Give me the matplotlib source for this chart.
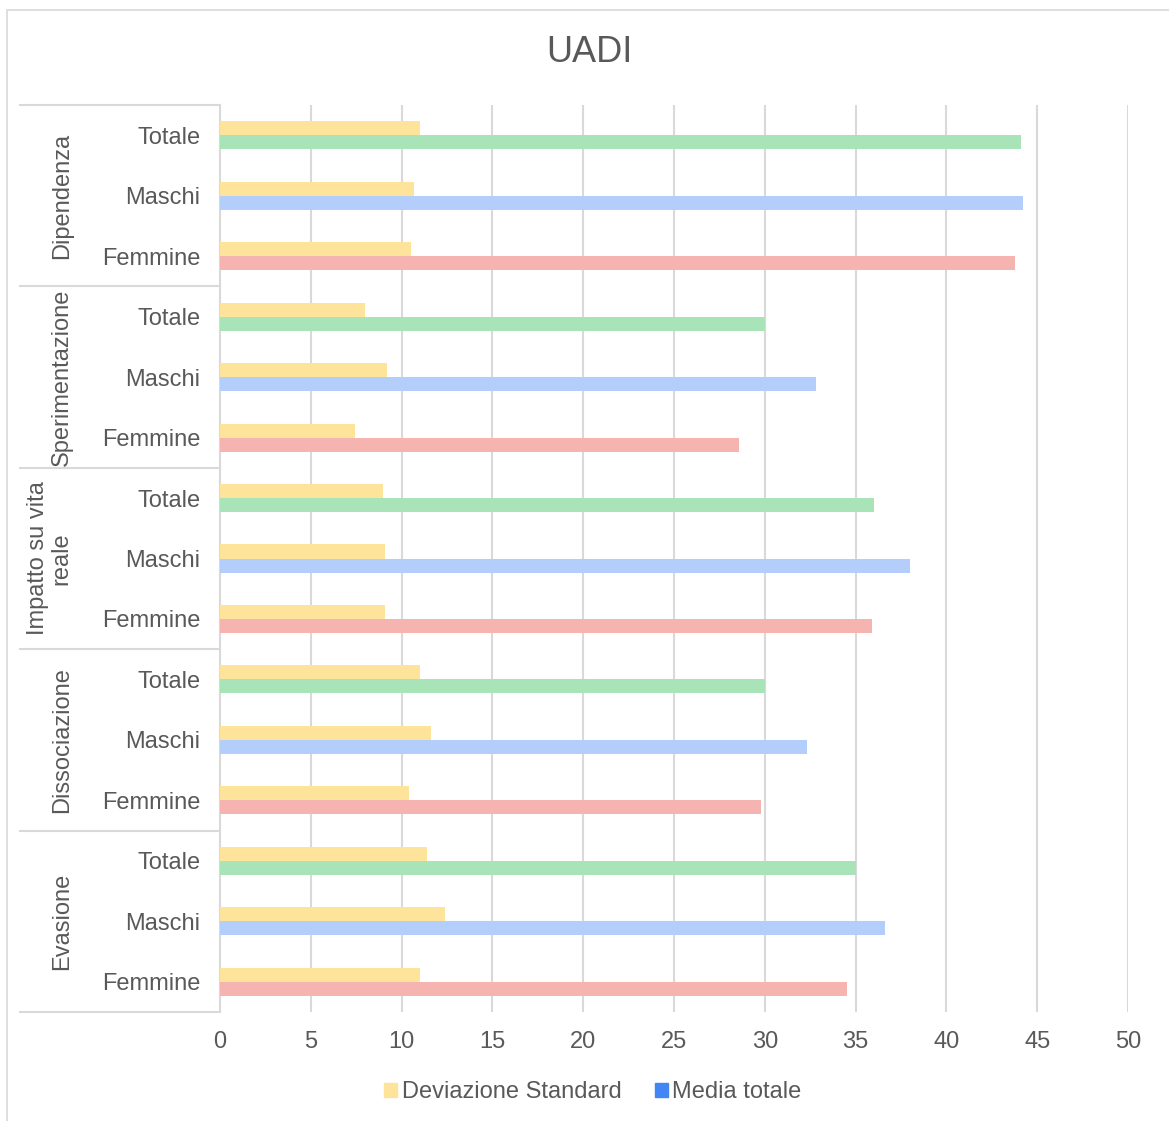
import matplotlib.pyplot as plt
from matplotlib.patches import Patch, Rectangle
from matplotlib.transforms import blended_transform_factory

plt.rcParams['font.family'] = ['Liberation Sans', 'DejaVu Sans']

groups = ['Dipendenza', 'Sperimentazione', 'Impatto su vita\nreale', 'Dissociazione', 'Evasione']
subgroups = ['Totale', 'Maschi', 'Femmine']

# one value per row, top to bottom (group by group, Totale/Maschi/Femmine)
dev_std = [11.0, 10.7, 10.5,
           8.0, 9.2, 7.45,
           8.95, 9.1, 9.1,
           11.0, 11.6, 10.4,
           11.4, 12.4, 11.0]
media = [44.1, 44.2, 43.75,
         30.0, 32.8, 28.6,
         36.0, 38.0, 35.9,
         30.0, 32.3, 29.8,
         35.0, 36.6, 34.5]

c_text = '#595959'
c_grid = '#d9d9d9'
c_sd = '#fde49a'
c_sub = {'Totale': '#a8e4b8', 'Maschi': '#b3cefa', 'Femmine': '#f6b4b0'}

fig = plt.figure(figsize=(11.69, 11.21), dpi=100)
W, H = 1169, 1121
ax = fig.add_axes([220 / W, 1 - 1012 / H, 908 / W, 907 / H])

# outer chart frame
fig.patches.append(Rectangle((7 / W, -0.1), 1.2, 1 - 10 / H + 0.1, transform=fig.transFigure,
                             fill=False, edgecolor=c_grid, linewidth=1.2))

n = len(media)
rows = list(range(n))
labels = [subgroups[i % 3] for i in rows]
h = 0.232
ax.barh([r - h / 2 for r in rows], dev_std, height=h, color=c_sd, zorder=3)
ax.barh([r + h / 2 for r in rows], media, height=h,
        color=[c_sub[l] for l in labels], zorder=3)

ax.set_xlim(0, 50)
ax.set_ylim(n - 0.5, -0.5)
ax.set_xticks(range(0, 51, 5))
ax.set_yticks(rows)
ax.set_yticklabels(labels)
ax.tick_params(axis='y', length=0, pad=14, labelsize=17, labelcolor=c_text)
ax.tick_params(axis='x', length=0, pad=14, labelsize=17, labelcolor=c_text)
ax.xaxis.grid(True, color=c_grid, linewidth=1.5, zorder=0)
for s in ['top', 'right', 'bottom']:
    ax.spines[s].set_visible(False)
ax.spines['left'].set_color(c_grid)
ax.spines['left'].set_linewidth(1.5)

# group separators and group names on the category axis
tr = blended_transform_factory(ax.transAxes, ax.transData)
x0 = (20 - 220) / 908
for k in range(len(groups) + 1):
    y = k * 3 - 0.5
    ax.plot([x0, 0], [y, y], color=c_grid, linewidth=1.5, transform=tr, clip_on=False)
for k, g in enumerate(groups):
    xc = 50 if '\n' in g else 62
    ax.text((xc - 220) / 908, k * 3 + 1, g, transform=tr, rotation=90,
            ha='center', va='center', fontsize=17, color=c_text,
            multialignment='center', linespacing=1.1)

fig.text(589 / W, 1 - 52 / H, 'UADI', ha='center', va='center', fontsize=26, color=c_text)

handles = [Patch(color=c_sd, label='Deviazione Standard'),
           Patch(color='#4285f4', label='Media totale')]
fig.legend(handles=handles, loc='center', bbox_to_anchor=(593 / W, 1 - 1092 / H), ncol=2,
           frameon=False, fontsize=17, labelcolor=c_text, handlelength=0.55,
           handleheight=0.55, handletextpad=0.2, columnspacing=1.4)

fig.savefig('out.png', dpi=100)
